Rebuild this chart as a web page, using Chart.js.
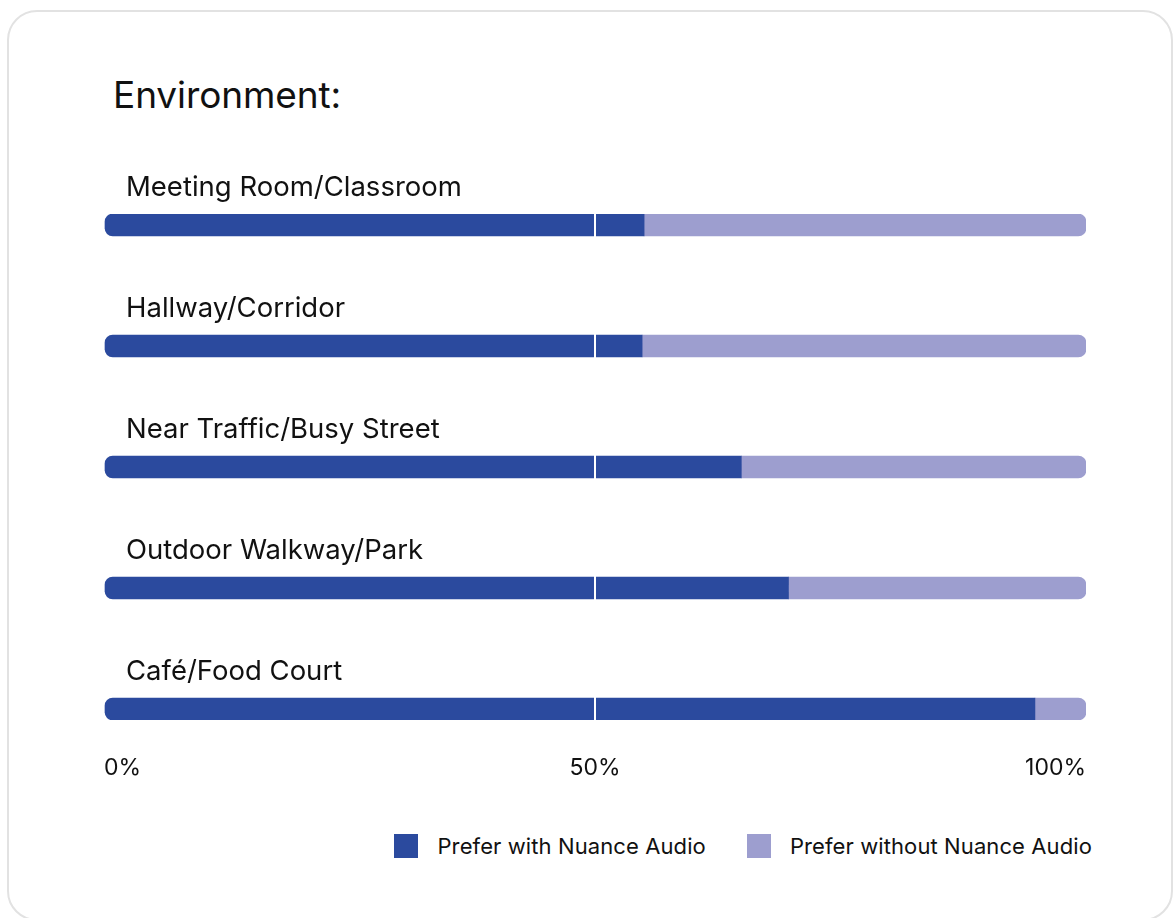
<!DOCTYPE html>
<html>
<head>
<meta charset="utf-8">
<script src="https://cdn.jsdelivr.net/npm/chart.js@4.4.1/dist/chart.umd.min.js"></script>
<style>
  body { margin: 0; background: #fff; font-family: Inter, "Noto Sans", sans-serif; color: #111; overflow: hidden; }
  .card { position: absolute; left: 7px; top: 10px; width: 1166px; height: 911px; border: 2px solid #e2e2e2; border-radius: 30px; box-sizing: border-box; }
  .title { position: absolute; left: 113px; top: 76px; font-size: 37px; line-height: 37px; font-weight: 400; letter-spacing: -0.1px; }
  #chartBox { position: absolute; left: 94px; top: 150px; }
  .legend { position: absolute; right: 81px; top: 834px; display: flex; gap: 41px; font-size: 22px; letter-spacing: 0.1px; }
  .legend-item { display: flex; align-items: center; gap: 19px; height: 24px; }
  .legend-item span.box { width: 24px; height: 24px; display: inline-block; }
</style>
</head>
<body>
<div class="card"></div>
<div class="title">Environment:</div>
<div id="chartBox"><canvas id="envChart" width="1010" height="650"></canvas></div>
<div class="legend" id="legend"></div>

<script>
// categorias e valores (% de preferencia)
const categories = ['Meeting Room/Classroom', 'Hallway/Corridor', 'Near Traffic/Busy Street', 'Outdoor Walkway/Park', 'Café/Food Court'];
const withNuance = [55, 54.8, 64.9, 69.7, 94.8];
const withoutNuance = [45, 45.2, 35.1, 30.3, 5.2];
const xTicks = [0, 50, 100];

const darkBlue = '#2b4a9e';
const lightBlue = '#9d9ecf';

// desenha o nome de cada categoria acima da barra
const categoryLabels = {
    id: 'categoryLabels',
    afterDatasetsDraw(chart) {
        const c = chart.ctx;
        const yScale = chart.scales.y;
        c.save();
        c.font = '27.5px Inter, "Noto Sans", sans-serif';
        c.fillStyle = '#111';
        c.textBaseline = 'alphabetic';
        c.textAlign = 'left';
        categories.forEach((name, i) => {
            const y = yScale.getPixelForValue(i);
            c.fillText(name, chart.chartArea.left + 22, y - 29);
        });
        c.restore();
    }
};

const ctx = document.getElementById('envChart').getContext('2d');
const envChart = new Chart(ctx, {
    type: 'bar',
    data: {
        datasets: [
            {
                label: 'Prefer with Nuance Audio',
                data: withNuance.map((v, i) => ({ x: v, y: i })),
                backgroundColor: darkBlue,
                borderWidth: 0,
                borderSkipped: false,
                borderRadius: { topLeft: 8, bottomLeft: 8, topRight: 0, bottomRight: 0 },
                barThickness: 22
            },
            {
                label: 'Prefer without Nuance Audio',
                data: withoutNuance.map((v, i) => ({ x: v, y: i })),
                backgroundColor: lightBlue,
                borderWidth: 0,
                borderSkipped: false,
                borderRadius: { topLeft: 0, bottomLeft: 0, topRight: 8, bottomRight: 8 },
                barThickness: 22
            }
        ]
    },
    options: {
        indexAxis: 'y',
        responsive: false,
        animation: false,
        layout: { padding: { left: 10, right: 18, top: 64, bottom: 10 } },
        plugins: {
            legend: { display: false },
            tooltip: { enabled: false }
        },
        scales: {
            x: {
                stacked: true,
                min: 0,
                max: 100,
                afterBuildTicks: (scale) => { scale.ticks = xTicks.map(v => ({ value: v })); },
                afterFit: (scale) => { scale.height = 70; },
                border: { display: false },
                grid: {
                    z: 1, // linha branca dos 50% por cima das barras
                    drawTicks: true,
                    tickLength: 34,
                    tickColor: 'rgba(0,0,0,0)',
                    lineWidth: 2,
                    color: (c) => c.tick && c.tick.value === 50 ? '#ffffff' : 'rgba(0,0,0,0)'
                },
                ticks: {
                    align: 'inner',
                    padding: 0,
                    color: '#111',
                    font: { family: 'Inter, "Noto Sans", sans-serif', size: 23 },
                    callback: (v) => v + '%'
                }
            },
            y: {
                type: 'linear',
                stacked: true,
                reverse: true,
                offset: false,
                min: -11 / 121,
                max: 4 + 11 / 121,
                display: false
            }
        }
    },
    plugins: [categoryLabels]
});

// legenda em HTML
const legendEl = document.getElementById('legend');
envChart.data.datasets.forEach(ds => {
    const item = document.createElement('div');
    item.className = 'legend-item';
    item.innerHTML = `<span class="box" style="background:${ds.backgroundColor}"></span><span>${ds.label}</span>`;
    legendEl.appendChild(item);
});
</script>
</body>
</html>
